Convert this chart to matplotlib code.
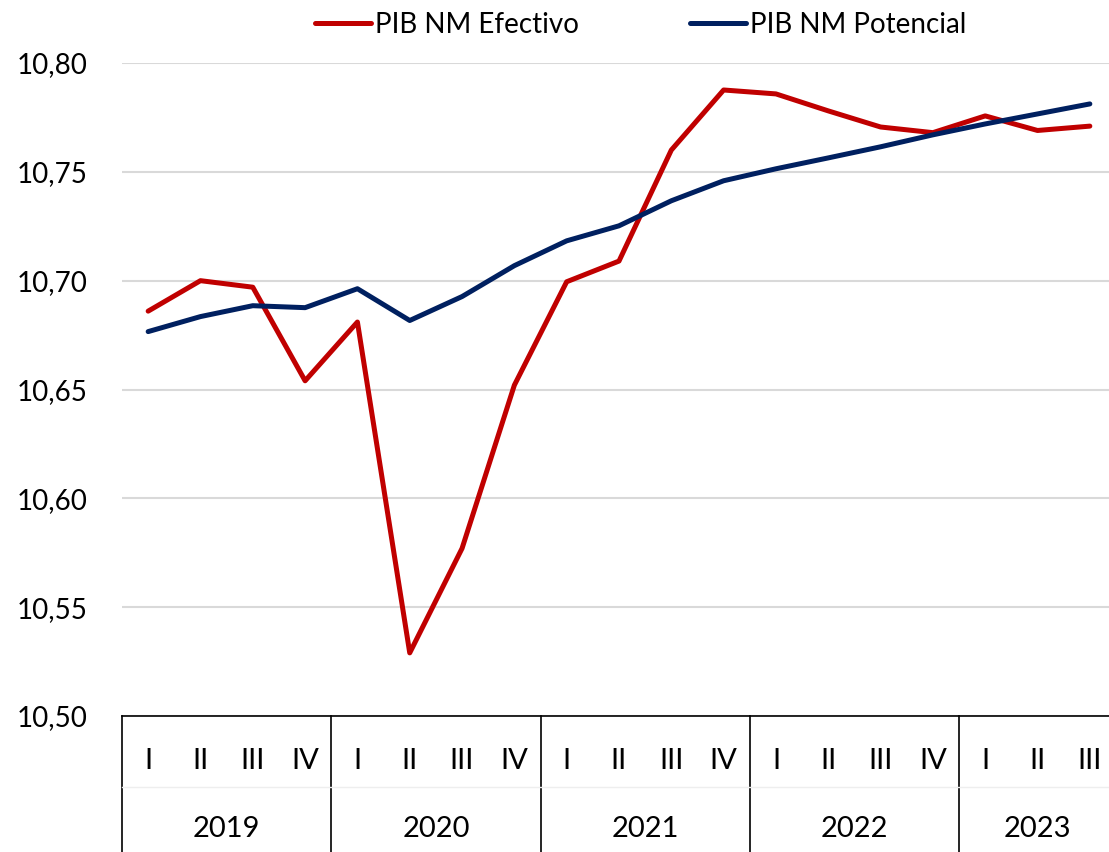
import matplotlib.pyplot as plt
import matplotlib.transforms as mtransforms

plt.rcParams['font.family'] = ['Lato', 'DejaVu Sans']

years = ['2019', '2020', '2021', '2022', '2023']
quarters = ['I', 'II', 'III', 'IV', 'I', 'II', 'III', 'IV', 'I', 'II', 'III', 'IV',
            'I', 'II', 'III', 'IV', 'I', 'II', 'III']
quarters_per_year = [4, 4, 4, 4, 3]

efectivo = [10.686, 10.700, 10.697, 10.654, 10.681, 10.529, 10.577, 10.652,
            10.6995, 10.709, 10.760, 10.7876, 10.7858, 10.778, 10.7706, 10.768,
            10.7757, 10.769, 10.771]
potencial = [10.6766, 10.6835, 10.6885, 10.6876, 10.6963, 10.6817, 10.6927, 10.7069,
             10.7183, 10.7252, 10.7367, 10.7459, 10.7514, 10.7564, 10.7615, 10.767,
             10.772, 10.7766, 10.7812]

fig = plt.figure(figsize=(11.09, 8.52), dpi=100)
ax = fig.add_axes([122 / 1109, 136 / 852, 994 / 1109, 653 / 852])

x = list(range(len(quarters)))
ax.plot(x, efectivo, color='#C00000', lw=3.6, label='PIB NM Efectivo', solid_capstyle='round')
ax.plot(x, potencial, color='#002060', lw=3.6, label='PIB NM Potencial', solid_capstyle='round')

ax.set_xlim(-0.5, len(quarters) - 0.5)
ax.set_ylim(10.50, 10.80)
ax.set_yticks([10.50, 10.55, 10.60, 10.65, 10.70, 10.75, 10.80])
ax.set_yticklabels([f'{v:.2f}'.replace('.', ',') for v in ax.get_yticks()])
ax.tick_params(axis='y', length=0, pad=25, labelsize=20)
ax.set_xticks([])
ax.grid(axis='y', color='#D9D9D9', lw=1.5)
ax.set_axisbelow(True)
for s in ['top', 'right', 'left']:
    ax.spines[s].set_visible(False)
ax.spines['bottom'].set_color('black')
ax.spines['bottom'].set_linewidth(1.2)

# two-level category axis
trans = mtransforms.blended_transform_factory(ax.transData, ax.transAxes)
h = 653
for i, q in enumerate(quarters):
    ax.text(i, -45 / h, q, transform=trans, ha='center', va='center', fontsize=21)
start = 0
for yr, n in zip(years, quarters_per_year):
    ax.text(start + (n - 1) / 2, -113 / h, yr, transform=trans, ha='center', va='center',
            fontsize=21)
    ax.plot([start - 0.5, start - 0.5], [0, -136 / h], transform=trans, color='black',
            lw=1.2, clip_on=False)
    start += n
ax.plot([-0.5, len(quarters) - 0.5], [-71 / h, -71 / h], transform=trans, color='#EEEEEE',
        lw=1, clip_on=False)

ax.legend(loc='center', bbox_to_anchor=(0.522, 1.058), ncol=2, frameon=False, fontsize=20,
          handlelength=2.0, handletextpad=0.15, columnspacing=4.0)

fig.savefig('out.png', dpi=100)
